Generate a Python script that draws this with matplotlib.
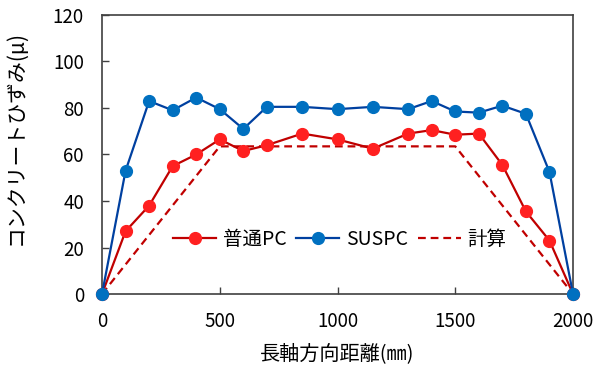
import matplotlib.pyplot as plt

plt.rcParams['font.family'] = ['Noto Sans CJK JP', 'DejaVu Sans']

# measurement positions (mm)
x_pos = [0, 100, 200, 300, 400, 500, 600, 700, 850, 1000, 1150,
         1300, 1400, 1500, 1600, 1700, 1800, 1900, 2000]

# strain readings (micro)
pc = [0, 27, 38, 55, 60, 66.5, 61.5, 64, 69, 66.5, 62.5,
      69, 70.5, 68.5, 69, 55.5, 35.5, 23, 0]
suspc = [0, 53, 83, 79, 84.5, 79.5, 71, 80.5, 80.5, 79.5, 80.5,
         79.5, 83, 78.5, 78, 81, 77.5, 52.5, 0]

# calculated line
calc_x = [0, 500, 1500, 2000]
calc_y = [0, 63.5, 63.5, 0]


def main():
    fig = plt.figure(figsize=(5.98, 3.74), dpi=100)
    ax = fig.add_axes([0.1706, 0.2139, 0.7876, 0.746])

    ax.plot(x_pos, pc, color='#C00000', lw=1.6, marker='o', ms=8.5,
            mfc='#FF2020', mec='#FF2020', label='普通PC', zorder=3)
    ax.plot(x_pos, suspc, color='#0040A0', lw=1.6, marker='o', ms=8.5,
            mfc='#0070C0', mec='#0070C0', label='SUSPC', zorder=3)
    ax.plot(calc_x, calc_y, color='#C00000', lw=1.6, ls=(0, (3.5, 2.2)),
            label='計算', zorder=2)

    ax.set_xlim(0, 2000)
    ax.set_ylim(0, 120)
    ax.set_xticks([0, 500, 1000, 1500, 2000])
    ax.set_yticks(range(0, 121, 20))
    ax.tick_params(direction='in', labelsize=13.5, length=5, width=1,
                   color='#404040')
    ax.tick_params(axis='y', pad=13)
    ax.tick_params(axis='x', pad=12)
    for s in ax.spines.values():
        s.set_color('#404040')
        s.set_linewidth(1.2)

    ax.set_xlabel('長軸方向距離(㎜)', fontsize=14.5, labelpad=8)
    ax.set_ylabel('コンクリートひずみ(μ)', fontsize=15, labelpad=12)
    ax.yaxis.set_label_coords(-0.16, 0.56)

    ax.legend(loc='center', bbox_to_anchor=(0.505, 0.195), ncol=3,
              frameon=False, fontsize=14, handlelength=2.2,
              handletextpad=0.35, columnspacing=0.5)

    for line in ax.lines:
        line.set_clip_on(False)

    fig.savefig('out.png', dpi=100)


if __name__ == '__main__':
    main()
